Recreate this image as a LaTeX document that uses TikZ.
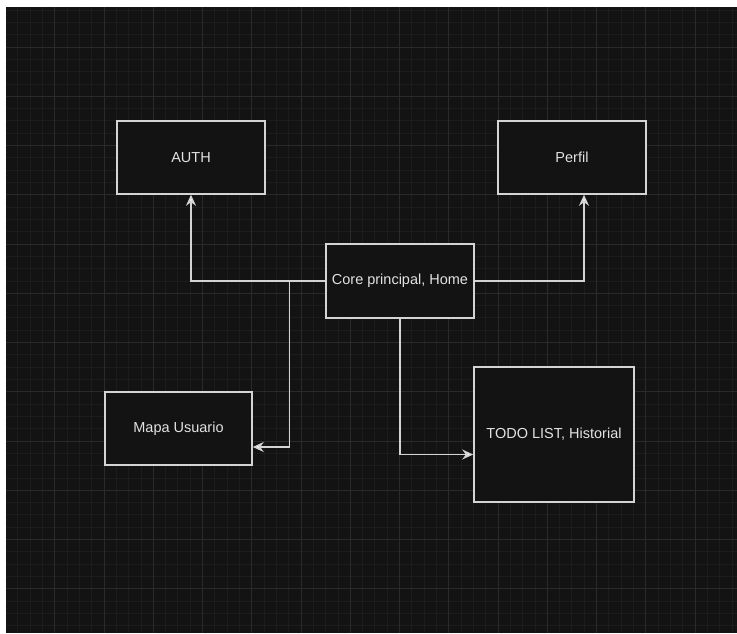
\documentclass[tikz,border=0pt]{standalone}
\usepackage{fontspec}
\setmainfont{Liberation Sans}
\usetikzlibrary{arrows.meta}
\definecolor{bgc}{HTML}{131313}
\definecolor{minorc}{HTML}{1C1C1C}
\definecolor{majorc}{HTML}{2A2A2A}
\definecolor{linec}{HTML}{D4D4D4}
\definecolor{textc}{HTML}{E2E2E2}
\tikzset{
  box/.style={draw=linec, fill=bgc, line width=1.5pt, inner sep=0pt,
    text=textc, font=\fontsize{14.5}{17}\selectfont},
  conn/.style={draw=linec, line width=1.5pt,
    -{Stealth[length=11pt,width=10pt,inset=3.5pt,fill=white]}},
  minorline/.style={draw=minorc, line width=0.8pt},
  majorline/.style={draw=majorc, line width=1pt}
}
\begin{document}
\begin{tikzpicture}[x=1pt,y=-1pt]
\useasboundingbox (0,0) rectangle (737,633);
\fill[white] (0,0) rectangle (737,633);
\fill[bgc] (6,7) rectangle (737,633);
\begin{scope}
  \clip (6,7) rectangle (737,633);
  \foreach \i in {0,...,60} {
    \draw[minorline] ({5.5+\i*12.3125},0) -- ({5.5+\i*12.3125},633);
  }
  \foreach \i in {0,...,52} {
    \draw[minorline] (0,{-2.25+\i*12.3125}) -- (737,{-2.25+\i*12.3125});
  }
  \foreach \i in {0,...,15} {
    \draw[majorline] ({5.5+\i*49.25},0) -- ({5.5+\i*49.25},633);
  }
  \foreach \i in {0,...,13} {
    \draw[majorline] (0,{-2.25+\i*49.25}) -- (737,{-2.25+\i*49.25});
  }
\end{scope}

\node[box, minimum width=148pt, minimum height=73pt] (auth) at (191,157.5) {AUTH};
\node[box, minimum width=148pt, minimum height=73pt] (perfil) at (572,157.5) {Perfil};
\node[box, minimum width=148pt, minimum height=74pt] (core) at (400,281) {Core principal, Home};
\node[box, minimum width=147pt, minimum height=73pt] (mapa) at (178.5,428.5) {Mapa Usuario};
\node[box, minimum width=160pt, minimum height=135pt] (todo) at (554,434.5) {TODO LIST, Historial};

\coordinate (junction) at (289.3,281);

\draw[conn] (core.west) -| (auth.south);
\draw[conn] (core.east) -| ([xshift=12pt]perfil.south);
\draw[conn] (junction) |- ([yshift=-18.5pt]mapa.east);
\draw[conn] (core.south) |- ([yshift=-20pt]todo.west);
\end{tikzpicture}
\end{document}
